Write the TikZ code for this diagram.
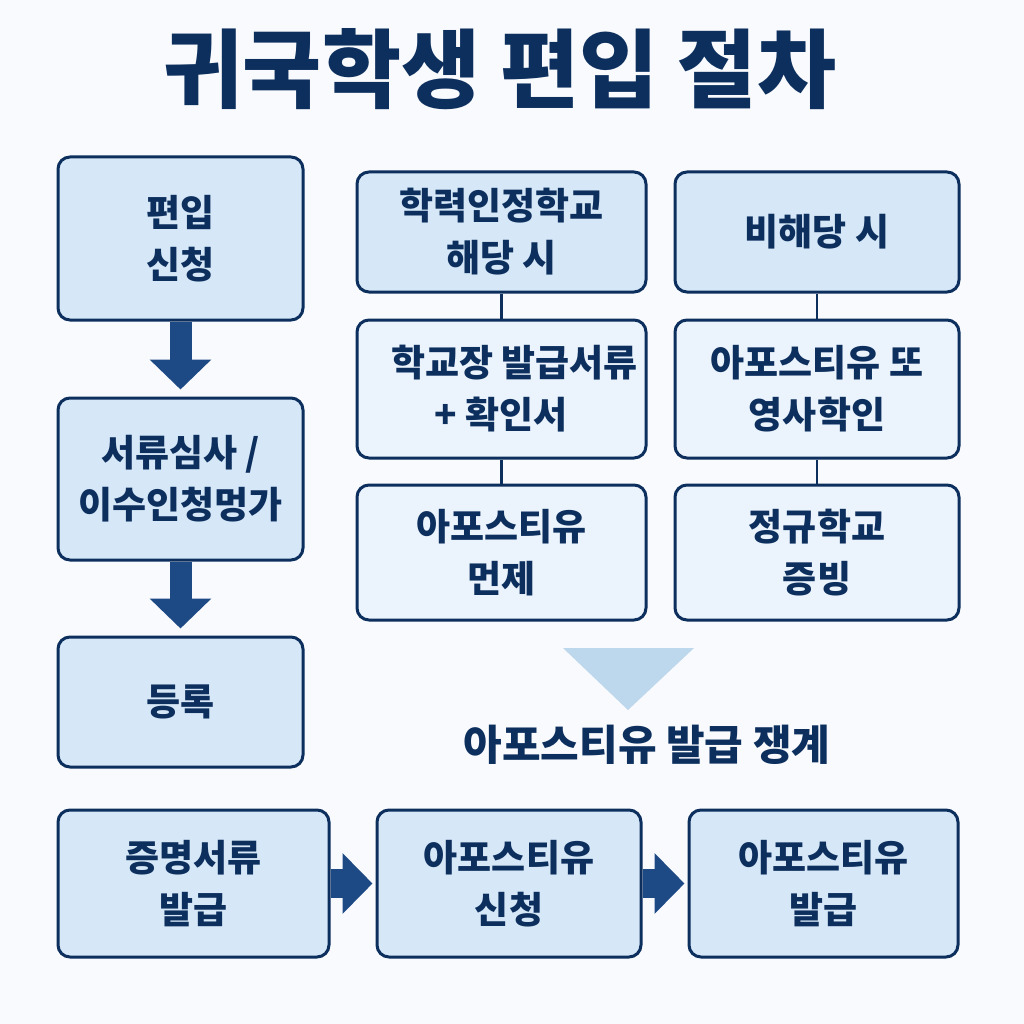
\documentclass[tikz,border=0pt]{standalone}
\usepackage{fontspec}
\setmainfont{Noto Sans CJK KR}
\usepackage{tikz}
\usetikzlibrary{arrows.meta}
\definecolor{navy}{HTML}{0D2F5E}
\definecolor{arrowblue}{HTML}{1D4A85}
\definecolor{boxfill}{HTML}{D6E8F8}
\definecolor{boxlight}{HTML}{EBF4FD}
\definecolor{trifill}{HTML}{BDD7EC}
\definecolor{bg}{HTML}{F8FAFD}
\tikzset{
    box/.style={draw=navy, line width=3pt, rounded corners=12pt, fill=boxfill,
        text=navy, align=center, inner sep=0pt,
        font=\bfseries\fontsize{37}{52}\selectfont},
    lightbox/.style={box, fill=boxlight},
    link/.style={draw=navy, line width=2.5pt},
    blockdown/.style={draw=arrowblue, line width=22pt,
        -{Triangle[length=30pt, width=60pt]}, shorten >=7pt},
    blockright/.style={draw=arrowblue, line width=29pt,
        -{Triangle[length=30pt, width=59pt]}, shorten >=3pt},
}

\begin{document}
\begin{tikzpicture}[x=1pt,y=-1pt]
\fill[bg] (0,0) rectangle (1024,1024);
\useasboundingbox (0,0) rectangle (1024,1024);

% title
\node[text=navy, font=\bfseries\fontsize{86}{90}\selectfont] (title) at (500,69) {귀국학생 편입 절차};

% left column
\node[box, minimum width=245pt, minimum height=163pt] (apply) at (180.5,238.5) {편입\\신청};
\node[box, minimum width=245pt, minimum height=162pt] (review) at (180.5,479) {서류심사 /\\이수인청멍가};
\node[box, minimum width=245pt, minimum height=130pt] (register) at (180.5,702) {등록};
\draw[blockdown] (apply.south) -- (review.north);
\draw[blockdown] (review.south) -- (register.north);

% accredited school branch
\node[box, minimum width=289pt, minimum height=120pt] (accredited) at (501.5,232) {학력인정학교\\해당 시};
\node[lightbox, minimum width=289pt, minimum height=138pt] (principal) at (501.5,389) {\hspace*{26pt}학교장 발급서류\\+ 확인서};
\node[lightbox, minimum width=289pt, minimum height=135pt] (exempt) at (501.5,552.5) {아포스티유\\먼제};
\draw[link] (accredited.south) -- (principal.north);
\draw[link] (principal.south) -- (exempt.north);

% other branch
\node[box, minimum width=284pt, minimum height=120pt] (other) at (817,232) {비해당 시};
\node[lightbox, minimum width=284pt, minimum height=138pt] (consul) at (817,389) {아포스티유 또\\영사학인};
\node[lightbox, minimum width=284pt, minimum height=135pt] (regular) at (817,552.5) {정규학교\\증빙};
\draw[link] (other.south) -- (consul.north);
\draw[link] (consul.south) -- (regular.north);

% issuing system
\fill[trifill] (563,648) -- (694,648) -- (628,710) -- cycle;
\node[text=navy, font=\bfseries\fontsize{42}{46}\selectfont] (system) at (647,745) {아포스티유 발급 쟁계};

% bottom row
\node[box, minimum width=271pt, minimum height=147pt] (certs) at (193.5,883.5) {증명서류\\발급};
\node[box, minimum width=264pt, minimum height=147pt] (request) at (509,883.5) {아포스티유\\신청};
\node[box, minimum width=269pt, minimum height=147pt] (issue) at (823.5,883.5) {아포스티유\\발급};
\draw[blockright] (certs.east) -- (request.west);
\draw[blockright] (request.east) -- (issue.west);
\end{tikzpicture}
\end{document}
